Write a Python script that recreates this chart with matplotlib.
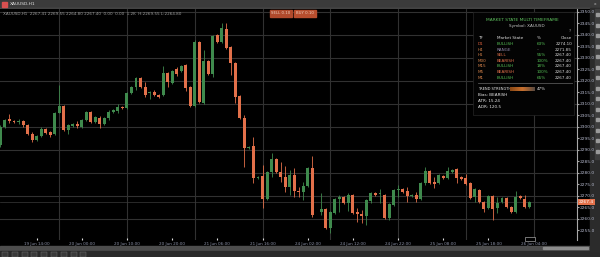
import matplotlib
matplotlib.use("Agg")
import matplotlib.pyplot as plt
import matplotlib.transforms as mtransforms
from matplotlib.patches import Rectangle
from matplotlib.colors import LinearSegmentedColormap
import numpy as np

nan = np.nan

# OHLC (one candle per bar, index 70 is an empty slot)
opens = [2292.2, 2300.0, 2303.5, 2302.6, 2302.2, 2302.6, 2300.9, 2296.9, 2294.3, 2296.1,
         2299.1, 2297.8, 2296.9, 2306.1, 2309.1, 2298.7, 2300.4, 2301.3, 2300.0, 2303.0,
         2306.5, 2302.2, 2303.9, 2301.3, 2303.9, 2306.5, 2306.9, 2308.7, 2308.2, 2314.8,
         2317.4, 2321.3, 2317.4, 2314.8, 2315.2, 2313.9, 2313.9, 2323.5, 2319.1, 2325.2,
         2324.3, 2326.9, 2317.4, 2309.1, 2336.9, 2310.4, 2328.7, 2323.0, 2340.0, 2336.9,
         2342.6, 2334.8, 2327.8, 2313.5, 2303.9, 2290.9, 2291.7, 2277.8, 2278.7, 2268.7,
         2280.4, 2286.1, 2280.4, 2278.2, 2273.9, 2279.1, 2272.2, 2271.7, 2274.3, 2282.2,
         nan, 2263.0, 2264.3, 2256.1, 2262.6, 2268.7, 2269.5, 2266.9, 2270.4, 2263.0,
         2262.2, 2261.3, 2267.8, 2271.3, 2270.9, 2270.4, 2260.4, 2266.1, 2272.6, 2273.0,
         2272.2, 2270.0, 2270.4, 2268.7, 2275.6, 2280.9, 2276.1, 2275.6, 2278.7, 2277.8,
         2280.4, 2281.7, 2278.2, 2277.8, 2275.6, 2269.5, 2272.6, 2267.4, 2264.8, 2270.0,
         2264.8, 2267.4, 2269.1, 2265.2, 2263.0, 2270.0, 2268.7, 2265.2]
highs = [2300.9, 2303.5, 2305.6, 2303.0, 2303.5, 2303.0, 2301.3, 2297.8, 2296.5, 2300.0,
         2299.5, 2298.2, 2306.5, 2318.2, 2309.6, 2301.3, 2301.7, 2302.6, 2303.5, 2306.9,
         2306.9, 2304.8, 2304.8, 2304.3, 2307.4, 2307.8, 2310.0, 2309.1, 2315.2, 2317.8,
         2321.7, 2321.7, 2319.5, 2315.6, 2316.1, 2314.3, 2326.5, 2323.9, 2324.8, 2326.1,
         2326.9, 2327.4, 2317.8, 2337.8, 2337.4, 2333.5, 2329.1, 2340.0, 2340.4, 2345.2,
         2345.2, 2335.2, 2328.2, 2313.9, 2305.2, 2291.7, 2295.6, 2278.7, 2283.5, 2280.9,
         2288.7, 2286.5, 2284.8, 2283.0, 2281.3, 2282.2, 2273.9, 2276.1, 2282.6, 2287.4,
         nan, 2271.3, 2264.8, 2263.5, 2269.1, 2270.4, 2270.0, 2271.3, 2270.9, 2264.8,
         2263.9, 2268.7, 2271.7, 2271.7, 2273.0, 2270.9, 2266.9, 2273.0, 2274.8, 2273.5,
         2273.9, 2270.9, 2271.7, 2276.1, 2282.6, 2281.3, 2278.2, 2279.5, 2279.1, 2282.6,
         2281.7, 2282.2, 2278.7, 2279.5, 2276.1, 2273.5, 2273.0, 2267.8, 2270.4, 2270.4,
         2269.5, 2269.5, 2269.5, 2265.6, 2272.2, 2270.4, 2270.4, 2267.8]
lows = [2291.3, 2299.5, 2301.7, 2301.7, 2301.3, 2300.0, 2296.5, 2293.5, 2293.9, 2295.6,
        2296.9, 2295.6, 2296.5, 2306.1, 2298.2, 2296.9, 2300.0, 2299.5, 2299.5, 2302.6,
        2301.7, 2301.7, 2299.5, 2300.9, 2303.0, 2306.1, 2306.1, 2308.0, 2308.0, 2314.3,
        2316.1, 2316.9, 2313.0, 2312.2, 2313.5, 2312.6, 2313.5, 2317.4, 2318.7, 2322.2,
        2323.9, 2315.6, 2308.7, 2308.7, 2310.4, 2310.0, 2322.6, 2321.7, 2336.5, 2336.5,
        2333.9, 2322.6, 2310.4, 2303.5, 2282.6, 2290.5, 2275.6, 2277.4, 2264.8, 2268.2,
        2278.2, 2280.0, 2276.1, 2271.7, 2270.4, 2269.5, 2269.5, 2268.2, 2273.9, 2260.9,
        nan, 2261.7, 2255.6, 2253.9, 2262.2, 2263.0, 2266.5, 2263.5, 2262.2, 2258.7,
        2258.2, 2257.4, 2266.9, 2270.0, 2266.9, 2260.0, 2259.5, 2265.6, 2269.5, 2271.3,
        2267.4, 2269.5, 2267.4, 2268.2, 2274.8, 2275.2, 2273.5, 2275.2, 2277.4, 2277.4,
        2280.0, 2275.6, 2277.0, 2274.8, 2268.7, 2267.4, 2266.9, 2263.0, 2264.3, 2259.5,
        2262.6, 2266.9, 2264.8, 2262.6, 2262.6, 2268.7, 2264.8, 2264.8]
closes = [2300.0, 2303.0, 2302.6, 2302.2, 2302.6, 2300.9, 2296.9, 2294.3, 2296.1, 2299.1,
          2297.4, 2296.5, 2306.1, 2309.1, 2298.7, 2300.9, 2301.3, 2300.4, 2303.0, 2306.5,
          2302.2, 2304.3, 2301.3, 2303.9, 2306.5, 2307.4, 2308.7, 2308.2, 2314.8, 2317.4,
          2321.3, 2317.4, 2313.9, 2315.2, 2313.9, 2313.0, 2323.5, 2319.5, 2324.3, 2323.0,
          2326.5, 2316.9, 2309.1, 2336.9, 2310.9, 2328.7, 2323.0, 2339.5, 2336.9, 2343.0,
          2334.3, 2327.8, 2313.0, 2303.9, 2290.9, 2291.3, 2277.8, 2278.2, 2268.7, 2280.4,
          2286.1, 2280.4, 2278.2, 2273.9, 2279.1, 2272.2, 2271.7, 2274.3, 2282.2, 2261.7,
          nan, 2264.3, 2256.1, 2263.0, 2268.7, 2269.5, 2266.9, 2270.4, 2262.6, 2262.2,
          2261.3, 2268.2, 2271.3, 2270.4, 2271.3, 2260.4, 2266.5, 2272.6, 2273.0, 2271.7,
          2270.0, 2270.4, 2268.7, 2275.6, 2280.9, 2275.6, 2275.2, 2279.1, 2277.8, 2280.9,
          2281.3, 2277.8, 2277.4, 2275.2, 2269.1, 2273.0, 2267.4, 2264.3, 2270.0, 2264.3,
          2266.9, 2269.1, 2265.2, 2263.0, 2269.5, 2269.1, 2265.2, 2267.4]

time_ticks = [8, 18, 28, 38, 48, 58, 68, 78, 88, 98, 108, 118]
time_labels = ["19 Jun 14:00", "20 Jun 00:00", "20 Jun 10:00", "20 Jun 20:00",
               "21 Jun 06:00", "21 Jun 16:00", "24 Jun 02:00", "24 Jun 12:00",
               "24 Jun 22:00", "25 Jun 08:00", "25 Jun 18:00", "26 Jun 04:00"]
time_grid = [13, 28, 43, 58, 73, 88, 103, 118]
price_grid = [2260, 2270, 2280, 2290, 2300, 2310, 2320, 2330, 2340, 2350]

panel_tf = ["D1", "H4", "H1", "M30", "M15", "M5", "M1"]
panel_state = ["BULLISH", "RANGE", "SELL", "BEARISH", "BULLISH", "BEARISH", "BULLISH"]
panel_pct = ["63%", "--", "55%", "100%", "18%", "100%", "65%"]
panel_close = ["2274.10", "2271.85", "2267.40", "2267.40", "2267.40", "2267.40", "2267.40"]

GREEN = "#3f8a4d"
RED = "#e2704a"
W, H = 600, 257

fig = plt.figure(figsize=(6, 2.57), dpi=100, facecolor="#232323")

# window chrome drawn in pixel space
bg = fig.add_axes([0, 0, 1, 1], zorder=0)
bg.set_xlim(0, W)
bg.set_ylim(H, 0)
bg.axis("off")
bg.add_patch(Rectangle((0, 0), 600, 8, color="#3b3b3b"))
bg.add_patch(Rectangle((0, 8), 590, 1, color="#555555"))
bg.add_patch(Rectangle((0, 9), 590, 237, color="black"))
bg.add_patch(Rectangle((0, 246), 600, 5, color="#4d4d4d"))
bg.add_patch(Rectangle((543, 247), 45, 2, color="#8c8c8c"))
bg.add_patch(Rectangle((0, 251), 600, 6, color="#2a2a2a"))
bg.add_patch(Rectangle((590, 8), 10, 243, color="#2b2b2b"))
bg.add_patch(Rectangle((595, 9), 5, 150, color="#3e3e3e"))
for k in range(14):
    bg.add_patch(Rectangle((596, 13 + k * 10.5), 3, 3, color="#9a9a9a"))
for k in range(9):
    bg.add_patch(Rectangle((2 + k * 9.8, 252), 6, 4.5, fc="#3a3a3a", ec="#777777", lw=0.3))
bg.add_patch(Rectangle((1.5, 1.5), 5, 5, color="#d85050"))
bg.text(10, 4, "XAUUSD,H1", color="#e0e0e0", fontsize=3.2, va="center")
bg.text(596, 4, "x", color="#bbbbbb", fontsize=3.2, va="center", ha="right")

# price chart
ax = fig.add_axes([0, 1 - 240 / H, 577 / W, 231 / H], zorder=1)
ax.set_facecolor("black")
o = np.array(opens)
h = np.array(highs)
l = np.array(lows)
c = np.array(closes)
idx = np.arange(len(o))
ok = ~np.isnan(o)
col = np.where(c >= o, GREEN, RED)
for g in price_grid:
    ax.axhline(g, color="#313131", lw=0.8, zorder=0)
for g in time_grid:
    ax.axvline(g, color="#313131", lw=0.8, zorder=0)
ax.axhline(closes[-1], color="#3a3a3a", lw=0.5, zorder=0)
ax.vlines(idx[ok], l[ok], h[ok], colors=col[ok], lw=0.6, zorder=2)
ax.bar(idx[ok], np.maximum(np.abs(c - o), 0.35)[ok], bottom=np.minimum(o, c)[ok],
       width=0.66, color=col[ok], lw=0, zorder=3)
ax.set_xlim(-0.1, 127.6)
ax.set_ylim(2250.85, 2351.3)

for s in ["top", "left", "bottom"]:
    ax.spines[s].set_visible(False)
ax.spines["right"].set_color("#a8a8a8")
ax.spines["right"].set_linewidth(0.8)
ax.yaxis.tick_right()
ax.set_yticks(np.arange(2255, 2351, 5))
ax.set_yticklabels([f"{v:.1f}" for v in np.arange(2255, 2351, 5)])
ax.tick_params(axis="y", labelsize=3.2, labelcolor="#b4b8cc", color="#a8a8a8",
               length=1.2, pad=1)
ax.set_xticks(time_ticks)
ax.set_xticklabels(time_labels)
ax.tick_params(axis="x", labelsize=3.0, labelcolor="#8e94aa", color="#dddddd",
               length=1.2, direction="in", pad=1.2)

tr = mtransforms.blended_transform_factory(ax.transAxes, ax.transData)
ax.text(1.003, closes[-1], f"{closes[-1]:.1f}", transform=tr, fontsize=3.2,
        color="white", va="center", ha="left", clip_on=False, zorder=5,
        bbox=dict(fc=RED, ec="none", pad=0.8))

# overlays: legend line, buttons, info panel
ov = fig.add_axes([0, 0, 1, 1], zorder=2)
ov.patch.set_alpha(0)
ov.axis("off")
ov.text(3, 14, "XAUUSD,H1  2267.41 2269.55 2264.80 2267.40  0.00  0.00  1.2K  H:2269.55 L:2264.80",
        color="#9a9a9a", fontsize=3.0, va="center")
ov.add_patch(Rectangle((270, 10), 22, 6.5, color="#b04a2c"))
ov.add_patch(Rectangle((294, 10), 22, 6.5, color="#b84e2e"))
ov.text(281, 13.3, "SELL 0.10", color="#f0d0c0", fontsize=2.8, ha="center", va="center")
ov.text(305, 13.3, "BUY 0.10", color="#f0d0c0", fontsize=2.8, ha="center", va="center")

ov.add_patch(Rectangle((473, 12), 101, 103, fc="#030303", ec="#262626", lw=0.5))
ov.text(522, 20, "MARKET STATE MULTI TIMEFRAME", color="#5cbf5c", fontsize=3.2,
        ha="center", va="center")
ov.text(527, 26, "Symbol: XAUUSD", color="#c8c8c8", fontsize=3.0, ha="center", va="center")
ov.text(570, 31, "?", color="#aaaaaa", fontsize=3.0, ha="center", va="center")
ov.text(478, 38, "TF", color="#e0e0e0", fontsize=3.0, va="center")
ov.text(497, 38, "Market State", color="#e0e0e0", fontsize=3.0, va="center")
ov.text(537, 38, "%", color="#e0e0e0", fontsize=3.0, va="center")
ov.text(572, 38, "Close", color="#e0e0e0", fontsize=3.0, va="center", ha="right")
state_col = {"BULLISH": "#55c055", "BEARISH": RED, "SELL": RED, "RANGE": "#8f86a8"}
for k in range(len(panel_tf)):
    yy = 44 + k * 5.6
    ov.text(478, yy, panel_tf[k], color="#d4824a" if k else "#e0603c", fontsize=3.0, va="center")
    ov.text(497, yy, panel_state[k], color=state_col[panel_state[k]], fontsize=3.0, va="center")
    ov.text(537, yy, panel_pct[k], color="#888888" if panel_pct[k] == "--" else "#55c055",
            fontsize=3.0, va="center")
    ov.text(572, yy, panel_close[k], color="#d8d8d8", fontsize=3.0, va="center", ha="right")
ov.plot([478, 572], [83, 83], color="#555555", lw=0.6)
ov.text(478, 89, "TREND STRENGTH:", color="#e8e8e8", fontsize=2.6, va="center")
cm = LinearSegmentedColormap.from_list("ts", ["#8a4814", "#c8702e", "#5a4a40"])
ov.imshow(np.linspace(0, 1, 40)[None, :], cmap=cm, extent=[510, 535, 91, 87],
          aspect="auto", zorder=3)
ov.text(537, 89, "47%", color="#e8e8e8", fontsize=3.0, va="center")
ov.text(478, 95, "Bias: BEARISH", color="#e8e8e8", fontsize=3.0, va="center")
ov.text(478, 101, "ATR: 15.24", color="#e8e8e8", fontsize=3.0, va="center")
ov.text(478, 107, "ADR: 120.5", color="#e8e8e8", fontsize=3.0, va="center")
ov.add_patch(Rectangle((525, 236.5), 10, 4, fc="black", ec="#cccccc", lw=0.4))
ov.set_xlim(0, W)
ov.set_ylim(H, 0)

fig.savefig("out.png", dpi=100, facecolor=fig.get_facecolor())
